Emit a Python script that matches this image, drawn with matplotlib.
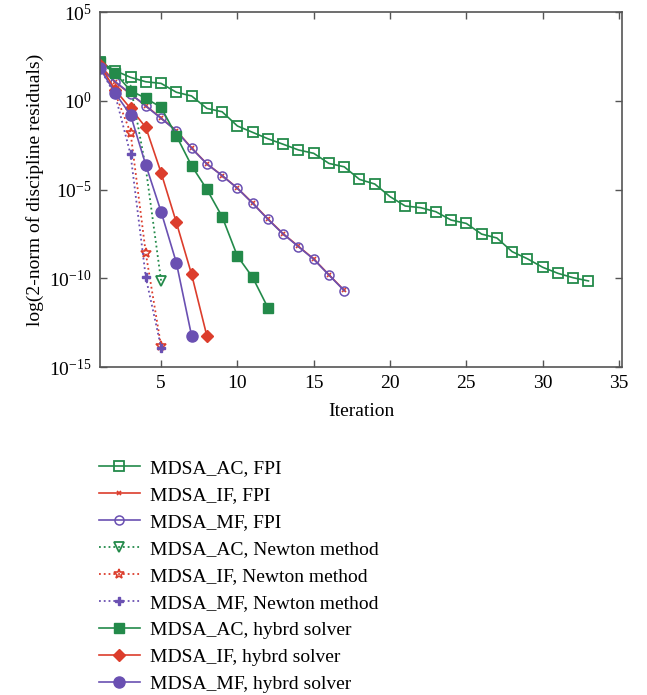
import matplotlib
matplotlib.use("Agg")
import matplotlib.pyplot as plt
from matplotlib.ticker import FixedLocator, LogFormatterSciNotation, NullLocator

plt.rcParams['font.family'] = ['Liberation Serif', 'DejaVu Serif']
plt.rcParams['mathtext.fontset'] = 'custom'
plt.rcParams['mathtext.rm'] = 'Liberation Serif'
plt.rcParams['mathtext.it'] = 'Liberation Serif:italic'

# data: log10 of residual norms
it_ac_fpi = list(range(1, 34))
ac_fpi = [2.2, 1.69, 1.32, 1.07, 0.98, 0.48, 0.27, -0.43, -0.62, -1.42, -1.78, -2.14,
          -2.45, -2.77, -2.96, -3.53, -3.72, -4.43, -4.69, -5.40, -5.93, -6.02, -6.25,
          -6.72, -6.91, -7.51, -7.73, -8.50, -8.90, -9.38, -9.72, -9.97, -10.15]
it_fpi = list(range(1, 18))
if_fpi = [2.0, 1.04, 0.38, -0.28, -0.97, -1.68, -2.66, -3.55, -4.21, -4.92, -5.76,
          -6.66, -7.49, -8.20, -8.91, -9.80, -10.68]
mf_fpi = [1.83, 1.07, 0.40, -0.30, -0.99, -1.70, -2.68, -3.56, -4.22, -4.93, -5.78,
          -6.68, -7.51, -8.22, -8.93, -9.82, -10.70]
it_newton = [1, 2, 3, 4, 5]
ac_newton = [2.2, 1.5, 0.86, -3.8, -10.14]
if_newton = [2.0, 0.4, -1.8, -8.6, -13.82]
mf_newton = [1.83, 0.3, -3.02, -9.95, -13.9]
it_ac_hyb = list(range(1, 13))
ac_hyb = [2.2, 1.55, 0.57, 0.14, -0.37, -1.97, -3.66, -4.99, -6.53, -8.75, -9.95, -11.66]
it_if_hyb = list(range(1, 9))
if_hyb = [2.0, 0.6, -0.43, -1.50, -4.05, -6.85, -9.78, -13.25]
it_mf_hyb = list(range(1, 8))
mf_hyb = [1.83, 0.42, -0.80, -3.62, -6.25, -9.12, -13.24]

green = '#238a4a'
red = '#dc3d2c'
purple = '#6a50b2'


def p10(v):
    return [10 ** x for x in v]


fig = plt.figure(figsize=(6.47, 6.95), dpi=100)
ax = fig.add_axes([0.1546, 0.4719, 0.8068, 0.5108])

ax.semilogy(it_ac_fpi, p10(ac_fpi), '-', color=green, lw=1.2, marker='s', ms=6.5,
            mfc='none', mec=green, mew=1.3, label='MDSA_AC, FPI')
ax.semilogy(it_fpi, p10(if_fpi), '-', color=red, lw=1.2, marker='x', ms=3,
            mew=1.2, label='MDSA_IF, FPI')
ax.semilogy(it_fpi, p10(mf_fpi), '-', color=purple, lw=1.2, marker='o', ms=6.5,
            mfc='none', mec=purple, mew=1.1, label='MDSA_MF, FPI')
ax.semilogy(it_newton, p10(ac_newton), ':', color=green, lw=1.3, marker='v', ms=7,
            mfc='none', mec=green, mew=1.3, markevery=[4], label='MDSA_AC, Newton method')
ax.semilogy(it_newton, p10(if_newton), ':', color=red, lw=1.3, marker='*', ms=7,
            mfc='none', mec=red, mew=1.2, markevery=[2, 3, 4], label='MDSA_IF, Newton method')
ax.semilogy(it_newton, p10(mf_newton), ':', color=purple, lw=1.3, marker='P', ms=6,
            mec=purple, mfc=purple, markevery=[2, 3, 4], label='MDSA_MF, Newton method')
ax.semilogy(it_ac_hyb, p10(ac_hyb), '-', color=green, lw=1.2, marker='s', ms=7,
            label='MDSA_AC, hybrd solver')
ax.semilogy(it_if_hyb, p10(if_hyb), '-', color=red, lw=1.2, marker='D', ms=6,
            label='MDSA_IF, hybrd solver')
ax.semilogy(it_mf_hyb, p10(mf_hyb), '-', color=purple, lw=1.2, marker='o', ms=8,
            label='MDSA_MF, hybrd solver')

ax.set_xlim(1, 35.2)
ax.set_ylim(1e-15, 1e5)
ax.set_xticks([5, 10, 15, 20, 25, 30, 35])
ax.yaxis.set_major_locator(FixedLocator([1e-15, 1e-10, 1e-5, 1e0, 1e5]))
ax.yaxis.set_major_formatter(LogFormatterSciNotation())
ax.yaxis.set_minor_locator(NullLocator())
ax.tick_params(direction='in', top=True, right=True, length=5, width=1,
               color='#555555', labelsize=14, pad=6)
for s in ax.spines.values():
    s.set_color('#555555')
    s.set_linewidth(1.2)

ax.set_xlabel('Iteration', fontsize=14, labelpad=8)
ax.set_ylabel('log(2-norm of discipline residuals)', fontsize=14, labelpad=4)

# legend below the axes, no frame
fig.legend(loc='upper left', bbox_to_anchor=(0.141, 0.35), frameon=False,
           fontsize=14, handlelength=2.1, labelspacing=0.48, handletextpad=0.5,
           borderaxespad=0)

plt.savefig('out.png', dpi=100)
